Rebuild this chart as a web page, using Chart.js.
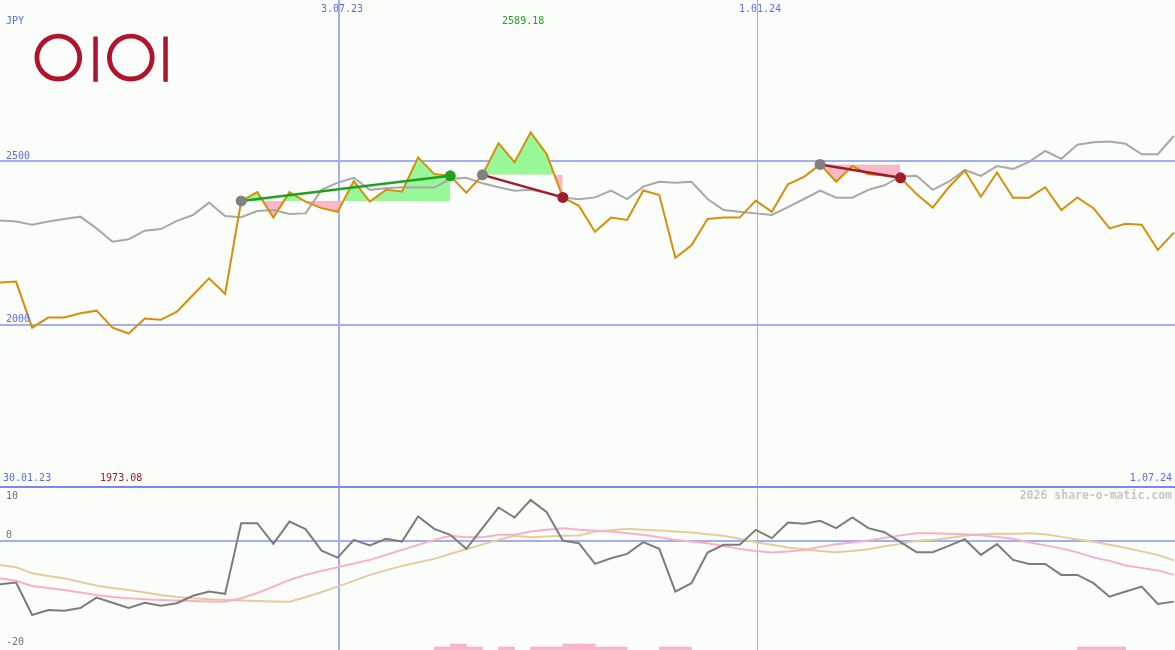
<!DOCTYPE html>
<html><head><meta charset="utf-8">
<script src="https://cdn.jsdelivr.net/npm/chart.js@4/dist/chart.umd.min.js"></script>
<style>
html,body{margin:0;padding:0;background:#fbfdfb;}
#wrap{position:relative;width:1175px;height:650px;overflow:hidden;background:#fbfdfb;}
#top{position:absolute;left:0;top:0;}
#bot{position:absolute;left:0;top:485px;}
#logo{position:absolute;left:0;top:0;}
</style></head><body>
<div id="wrap">
<canvas id="top" width="1175" height="487"></canvas>
<canvas id="bot" width="1175" height="165"></canvas>
<svg id="logo" width="200" height="100" xmlns="http://www.w3.org/2000/svg">
  <circle cx="58.3" cy="57.6" r="21.4" fill="none" stroke="#b0142c" stroke-width="4.8"/>
  <rect x="93.3" y="36.5" width="4.5" height="45.3" fill="#b0142c"/>
  <circle cx="130.8" cy="57.6" r="21.4" fill="none" stroke="#b0142c" stroke-width="4.8"/>
  <rect x="163.3" y="36.5" width="4.5" height="45.3" fill="#b0142c"/>
</svg>
</div>
<script>
// ---- data (weekly points, index 0..73) ----
const closePrice = [2129,2132,1991,2022,2022,2035,2043,1991,1973.08,2019,
  2015,2040,2091,2142,2094,2379,2406,2328,2406,2377,
  2357,2346,2440,2377,2413,2408,2512,2462,2456,2404,
  2459,2556,2498,2589.18,2522,2390,2364,2285,2328,2321,
  2411,2397,2205,2243,2324,2328,2328,2380,2346,2430,
  2453,2491,2438,2486,2461,2457,2450,2400,2359,2421,
  2472,2392,2466,2389,2389,2421,2351,2390,2357,2295,
  2309,2306,2229,2282];
const avgPrice = [2319,2316,2306,2316,2324,2331,2295,2254,2262,2288,
  2293,2318,2336,2374,2333,2329,2348,2351,2339,2341,
  2413,2435,2450,2413,2418,2421,2420,2420,2446,2450,
  2433,2421,2410,2413,2404,2390,2384,2390,2411,2385,
  2423,2438,2435,2438,2385,2351,2346,2341,2336,2360,
  2385,2411,2389,2389,2413,2427,2454,2456,2413,2438,
  2474,2456,2486,2477,2499,2532,2508,2551,2559,2561,
  2554,2522,2522,2578];
const oscMain = [-8.15,-7.85,-13.9,-12.95,-13.1,-12.6,-10.65,-11.6,-12.6,-11.6,
  -12.15,-11.7,-10.3,-9.5,-9.95,3.25,3.25,-0.6,3.55,2.13,
  -1.87,-3.18,0.13,-0.93,0.32,-0.19,4.49,2.19,1.07,-1.55,
  2.32,6.17,4.3,7.6,5.3,0,-0.49,-4.36,-3.29,-2.49,
  -0.3,-1.55,-9.53,-7.96,-2.24,-0.8,-0.8,2.0,0.45,3.36,
  3.12,3.68,2.32,4.3,2.32,1.57,-0.3,-2.17,-2.17,-1.0,
  0.26,-2.67,-0.67,-3.6,-4.36,-4.36,-6.41,-6.41,-7.96,-10.47,
  -9.5,-8.6,-11.83,-11.4];
const oscPink = [-7.03,-7.5,-8.47,-8.84,-9.21,-9.68,-10.15,-10.52,-10.77,-10.95,
  -11.08,-11.18,-11.27,-11.36,-11.4,-10.77,-9.78,-8.6,-7.35,-6.41,
  -5.66,-4.97,-4.3,-3.61,-2.67,-1.74,-0.8,0.13,0.88,0.64,
  0.64,1.07,1.07,1.68,2.0,2.32,2.0,1.81,1.68,1.38,
  1.07,0.6,0.13,-0.19,-0.49,-0.99,-1.55,-1.93,-2.24,-2.02,
  -1.74,-1.18,-0.67,-0.34,0,0.5,0.97,1.38,1.35,1.25,
  1.16,0.97,0.69,0.32,-0.34,-0.9,-1.46,-2.21,-3.14,-3.79,
  -4.64,-5.1,-5.57,-6.41];
const oscTan = [-4.54,-4.97,-6.09,-6.6,-7.03,-7.72,-8.41,-8.84,-9.21,-9.68,
  -10.15,-10.52,-10.77,-10.95,-11.08,-11.18,-11.27,-11.36,-11.4,-10.58,
  -9.59,-8.6,-7.53,-6.41,-5.57,-4.73,-4.07,-3.42,-2.49,-1.61,
  -0.71,0.13,0.88,0.64,0.75,0.88,0.93,1.68,1.94,2.19,
  2.0,1.87,1.68,1.5,1.2,0.88,0.32,-0.3,-0.8,-1.31,
  -1.64,-1.93,-2.17,-1.93,-1.61,-1.08,-0.62,-0.09,0.13,0.5,
  0.88,1.16,1.25,1.25,1.35,1.16,0.69,0.22,-0.24,-0.8,
  -1.36,-2.02,-2.67,-3.7];
// small signal bars at the bottom: [index, height]
const sigBarIdx = [27,28,29,31,33,34,35,36,37,38,41,42,67,68,69];
const sigBarVal = [1,2,1,1,1,1,2,2,1,1,1,1,1,1,1];
// trades: entry index, exit index, win?
const tradeEntry = [15,30,51];
const tradeExit  = [28,35,56];
const tradeWin   = [true,false,false];
// axis labels
const dateTickPos = [21.08,47.08];
const dateTickLbl = ['3.07.23','1.01.24'];
const priceTicks = [2000,2500];
const oscTicks = [10,0,-20];
const rangeStart = '30.01.23', rangeEnd = '1.07.24';
const currency = 'JPY';
const watermark = '2026 share-o-matic.com';

const X_MAX = 73.07;
const FONT = '10px "DejaVu Sans Mono", monospace';
const BLUE_TXT = '#5a6af0';
const GRID = '#a3aef0';

const pts = arr => arr.map((v,i)=>({x:i,y:v}));

const datasets = [];
for (let k=0;k<tradeEntry.length;k++){
  const a=tradeEntry[k], b=tradeExit[k];
  const d=[]; for(let i=a;i<=b;i++) d.push({x:i,y:closePrice[i]});
  datasets.push({data:d, borderWidth:0, pointRadius:0, order:5,
    fill:{target:{value:closePrice[a]}, above:'#98f898', below:'#f8b8ca'}});
}
datasets.push({data:pts(avgPrice), borderColor:'#a8a8a8', borderWidth:2, pointRadius:0, order:3, fill:false});
datasets.push({data:pts(closePrice), borderColor:'#d4900c', borderWidth:2, pointRadius:0, order:2, fill:false});
for (let k=0;k<tradeEntry.length;k++){
  const a=tradeEntry[k], b=tradeExit[k];
  const col = tradeWin[k] ? '#22a022' : '#a01c28';
  datasets.push({data:[{x:a,y:closePrice[a]},{x:b,y:closePrice[b]}], borderColor:col, borderWidth:2.5,
    pointRadius:5.5, pointBorderWidth:0, pointBackgroundColor:['#808080',col], order:1, fill:false});
}

function gridX(){
  return {type:'linear', min:0, max:X_MAX, display:true, offset:false,
    afterBuildTicks:s=>{s.ticks=dateTickPos.map(v=>({value:v}));},
    ticks:{display:false}, border:{display:false},
    grid:{drawTicks:false, offset:false, color:GRID, lineWidth:c=>(c.index===0?2:1)}};
}

const topLabels = {id:'topLabels', afterDraw(ch){
  const c=ch.ctx, xs=ch.scales.x, ys=ch.scales.y;
  c.save(); c.font=FONT; c.textBaseline='middle';
  c.fillStyle=BLUE_TXT; c.textAlign='left';
  c.fillText(currency,6,21.5);
  priceTicks.forEach(v=>c.fillText(String(v),6,ys.getPixelForValue(v)-5.5));
  c.textAlign='center';
  dateTickPos.forEach((p,i)=>c.fillText(dateTickLbl[i],xs.getPixelForValue(p)+3,9));
  c.textAlign='left'; c.fillText(rangeStart,3,478.5);
  c.textAlign='right'; c.fillText(rangeEnd,1172,478.5);
  let mx=0,mn=0; closePrice.forEach((v,i)=>{if(v>closePrice[mx])mx=i; if(v<closePrice[mn])mn=i;});
  c.textAlign='center';
  c.fillStyle='#22a022'; c.fillText(closePrice[mx].toFixed(2), xs.getPixelForValue(mx)-7.5, 21.5);
  c.fillStyle='#a01c28'; c.fillText(closePrice[mn].toFixed(2), xs.getPixelForValue(mn)-7.5, 478.5);
  c.restore();
}};

new Chart(document.getElementById('top'), {
  type:'line',
  data:{datasets},
  options:{responsive:false, animation:false, devicePixelRatio:1,
    layout:{padding:0, autoPadding:false},
    plugins:{legend:{display:false}, tooltip:{enabled:false}},
    elements:{line:{tension:0}},
    scales:{
      x:gridX(),
      y:{type:'linear', min:1503, max:2994.5, display:true,
        afterBuildTicks:s=>{s.ticks=priceTicks.map(v=>({value:v}));},
        ticks:{display:false}, border:{display:false},
        grid:{drawTicks:false, color:GRID, lineWidth:2}}
    }},
  plugins:[topLabels]
});

const botLabels = {id:'botLabels', afterDraw(ch){
  const c=ch.ctx, ys=ch.scales.y, a=ch.chartArea;
  c.save();
  c.fillStyle='#7888ee'; c.fillRect(0,a.top-1,1175,2);
  c.font=FONT; c.textBaseline='middle'; c.textAlign='left'; c.fillStyle='#707070';
  oscTicks.forEach(v=>{
    const py=ys.getPixelForValue(v);
    c.fillText(String(v),6, v===10 ? py+9.3 : py-5.6);
  });
  c.font='bold 11.5px "DejaVu Sans Mono", monospace'; c.textAlign='right'; c.fillStyle='#c6c6c6';
  c.fillText(watermark,1172,a.top+9);
  c.restore();
}};

new Chart(document.getElementById('bot'), {
  type:'line',
  data:{datasets:[
    {type:'bar', data:sigBarIdx.map((ix,k)=>({x:ix+0.5,y:sigBarVal[k]})), yAxisID:'yb',
      backgroundColor:'#f8b4ca', borderWidth:0, barPercentage:1, categoryPercentage:1, order:5},
    {data:pts(oscTan), borderColor:'#e4cc9c', borderWidth:2, pointRadius:0, order:3, fill:false},
    {data:pts(oscPink), borderColor:'#f8b0c8', borderWidth:2, pointRadius:0, order:2, fill:false},
    {data:pts(oscMain), borderColor:'#7c7c7c', borderWidth:2, pointRadius:0, order:1, fill:false}
  ]},
  options:{responsive:false, animation:false, devicePixelRatio:1,
    layout:{padding:{top:2,left:0,right:0,bottom:0}, autoPadding:false},
    plugins:{legend:{display:false}, tooltip:{enabled:false}},
    elements:{line:{tension:0}},
    scales:{
      x:gridX(),
      y:{type:'linear', min:-20.43, max:10, display:true,
        afterBuildTicks:s=>{s.ticks=[{value:0}];},
        ticks:{display:false}, border:{display:false},
        grid:{drawTicks:false, color:GRID, lineWidth:2}},
      yb:{type:'linear', min:0, max:54.33, display:false}
    }},
  plugins:[botLabels]
});
</script>
</body></html>
